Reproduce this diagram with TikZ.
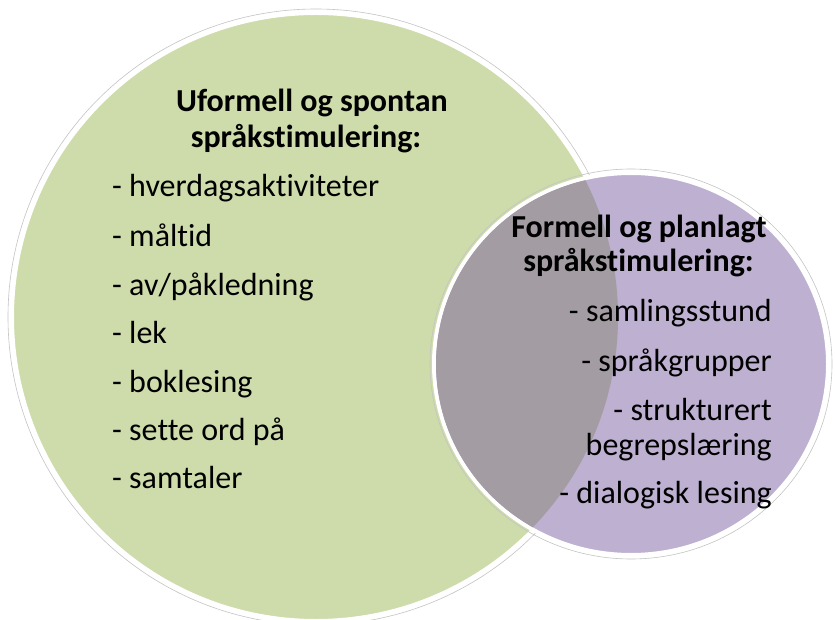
\documentclass[tikz,border=0pt]{standalone}
\usepackage{fontspec}
\setmainfont{Carlito}[Ligatures={NoCommon}]
\definecolor{greenfill}{HTML}{CEDBAB}
\definecolor{purplefill}{HTML}{BEB0D1}
\definecolor{overlapfill}{HTML}{A39CA3}
\definecolor{rimgray}{HTML}{C4C4C4}
\begin{document}
\begin{tikzpicture}[x=1pt,y=-1pt,
  rim/.style={draw=white,line width=4pt},
  halo/.style={draw=rimgray,line width=0.6pt},
  itemL/.style={anchor=base west,inner sep=0pt,font=\fontsize{32}{36}\selectfont},
  itemR/.style={anchor=base east,inner sep=0pt,font=\fontsize{32}{36}\selectfont},
  heading/.style={anchor=base,inner sep=0pt,font=\bfseries\fontsize{32}{36}\selectfont}]
\useasboundingbox (0,0) rectangle (835,620);
\fill[white] (0,0) rectangle (835,620);
% green circle
\coordinate (gc) at (316,317);
\coordinate (pc) at (631,364);
\draw[halo] (gc) circle[radius=308];
\fill[greenfill] (gc) circle[radius=304];
\draw[rim] (gc) circle[radius=304];
% purple circle
\draw[halo] (pc) ellipse[x radius=201,y radius=195];
\fill[purplefill] (pc) ellipse[x radius=197,y radius=191];
\draw[rim] (pc) ellipse[x radius=197,y radius=191];
% overlap
\begin{scope}
  \clip (gc) circle[radius=302];
  \fill[overlapfill] (pc) ellipse[x radius=195,y radius=189];
\end{scope}
% green texts
\node[heading] (g1) at (312,111.7) {Uformell og spontan};
\node[heading] (g2) at (306,148) {språkstimulering:};
\node[itemL] (a1) at (112,196.7) {- hverdagsaktiviteter};
\node[itemL] (a2) at (112,246.7) {- måltid};
\node[itemL] (a3) at (112,295) {- av/påkledning};
\node[itemL] (a4) at (112,343) {- lek};
\node[itemL] (a5) at (112,392) {- boklesing};
\node[itemL] (a6) at (112,440) {- sette ord på};
\node[itemL] (a7) at (112,488) {- samtaler};
% purple texts
\node[heading] (p1) at (639,238) {Formell og planlagt};
\node[heading] (p2) at (638.5,272) {språkstimulering:};
\node[itemR] (b1) at (772,321.7) {- samlingsstund};
\node[itemR] (b2) at (772,371.7) {- språkgrupper};
\node[itemR] (b3) at (772,420) {- strukturert};
\node[itemR] (b4) at (772,455) {begrepslæring};
\node[itemR] (b5) at (772,503) {- dialogisk lesing};
\end{tikzpicture}
\end{document}
